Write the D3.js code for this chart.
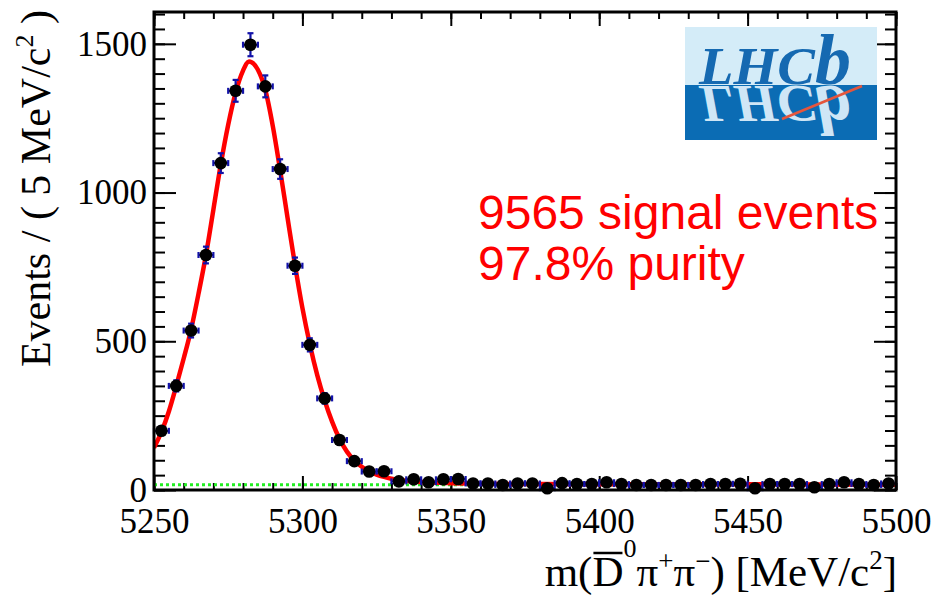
<!DOCTYPE html>
<html><head><meta charset="utf-8">
<script src="https://cdn.jsdelivr.net/npm/d3@7"></script>
<style>body{margin:0;background:#fff} svg{display:block}</style>
</head><body>
<svg id="c" width="933" height="595"></svg>
<script>
// ---------- data ----------
const binCenters = [5252.5,5257.5,5262.5,5267.5,5272.5,5277.5,5282.5,5287.5,5292.5,5297.5,
  5302.5,5307.5,5312.5,5317.5,5322.5,5327.5,5332.5,5337.5,5342.5,5347.5,
  5352.5,5357.5,5362.5,5367.5,5372.5,5377.5,5382.5,5387.5,5392.5,5397.5,
  5402.5,5407.5,5412.5,5417.5,5422.5,5427.5,5432.5,5437.5,5442.5,5447.5,
  5452.5,5457.5,5462.5,5467.5,5472.5,5477.5,5482.5,5487.5,5492.5,5497.5];
const counts = [199,350,536,790,1099,1342,1497,1357,1079,754,
  488,308,168,97,62,63,29,36,26,36,
  37,22,22,17,22,22,6,23,20,20,
  26,20,17,17,17,17,17,20,20,21,
  6,20,20,20,9,20,26,20,17,22];
const fitMass = [5250,5252.5,5255,5257.5,5260,5262.5,5265,5267.5,5270,5272.5,5275,5277.5,5280,5282,
  5285,5287.5,5290,5292.5,5295,5297.5,5300,5302.5,5305,5307.5,5310,5312.5,5315,5317.5,5320,5322.5,
  5325,5327.5,5330,5335,5340,5350,5360,5380,5400,5450,5500];
const fitValues = [142,195,264,350,442,540,660,790,942,1095,1228,1336,1410,1441,
  1413,1345,1225,1075,915,757,612,490,386,301,230,172,129,99,78,63,
  52,44,38,31,27,23,21,20,19,19,18];
const backgroundLevel = 18;
const xTicks = [5250,5300,5350,5400,5450,5500];
const yTicks = [0,500,1000,1500];
const binWidth = 5;

// ---------- layout ----------
const L = 154, R = 896, T = 12, B = 490;
const svg = d3.select("#c");
const x = d3.scaleLinear().domain([5250,5500]).range([L,R]);
const y = d3.scaleLinear().domain([0,1607]).range([B,T]);

const serif = "'Liberation Serif','Times New Roman',serif";
const sans = "'Liberation Sans',Arial,sans-serif";

const defs = svg.append("defs");
defs.append("clipPath").attr("id","plotclip")
  .append("rect").attr("x",L).attr("y",T).attr("width",R-L).attr("height",B-T);

// ---------- axes (ROOT style inward ticks) ----------
const axB = svg.append("g").attr("transform",`translate(0,${B})`)
  .call(d3.axisBottom(x).tickValues(d3.range(5250,5501,10)).tickSize(-7).tickFormat(""));
const axB2 = svg.append("g").attr("transform",`translate(0,${B})`)
  .call(d3.axisBottom(x).tickValues(xTicks).tickSize(-14).tickFormat(d3.format("d")));
const axT = svg.append("g").attr("transform",`translate(0,${T})`)
  .call(d3.axisTop(x).tickValues(d3.range(5250,5501,10)).tickSize(-7).tickFormat(""));
const axT2 = svg.append("g").attr("transform",`translate(0,${T})`)
  .call(d3.axisTop(x).tickValues(xTicks).tickSize(-14).tickFormat(""));
const axL = svg.append("g").attr("transform",`translate(${L},0)`)
  .call(d3.axisLeft(y).tickValues(d3.range(0,1601,50)).tickSize(-11).tickFormat(""));
const axL2 = svg.append("g").attr("transform",`translate(${L},0)`)
  .call(d3.axisLeft(y).tickValues(yTicks).tickSize(-22).tickFormat(d3.format("d")));
const axR = svg.append("g").attr("transform",`translate(${R},0)`)
  .call(d3.axisRight(y).tickValues(d3.range(0,1601,50)).tickSize(-11).tickFormat(""));
const axR2 = svg.append("g").attr("transform",`translate(${R},0)`)
  .call(d3.axisRight(y).tickValues(yTicks).tickSize(-22).tickFormat(""));
[axB,axB2,axT,axT2,axL,axL2,axR,axR2].forEach(g=>{
  g.select(".domain").remove();
  g.selectAll(".tick line").attr("stroke","#000").attr("stroke-width",2);
  g.selectAll(".tick text").attr("font-family",serif).attr("font-size",35).attr("fill","#000");
});
axB2.selectAll(".tick text").attr("dy","0.71em").attr("y",18);
axL2.selectAll(".tick text").attr("x",-7).attr("dy","0.32em");

// ---------- background (green dotted) ----------
const plot = svg.append("g").attr("clip-path","url(#plotclip)");
plot.append("line")
  .attr("x1",x(5250)).attr("x2",x(5500))
  .attr("y1",y(backgroundLevel)).attr("y2",y(backgroundLevel))
  .attr("stroke","#22ee22").attr("stroke-width",3).attr("stroke-dasharray","3,3");

// ---------- fit curve ----------
const fitPts = fitMass.map((m,i)=>[m,fitValues[i]]);
plot.append("path").datum(fitPts)
  .attr("d",d3.line().x(d=>x(d[0])).y(d=>y(d[1])).curve(d3.curveMonotoneX))
  .attr("fill","none").attr("stroke","#ff0000").attr("stroke-width",4.5);

// ---------- data points ----------
const data = binCenters.map((m,i)=>({m, n:counts[i], e:Math.sqrt(counts[i])}));
const eb = svg.append("g").attr("stroke","#1212a8").attr("stroke-width",2.2);
const cap = 3;
data.forEach(d=>{
  const cx = x(d.m), cy = y(d.n);
  const x0 = x(d.m-binWidth/2), x1 = x(d.m+binWidth/2);
  const y0 = y(d.n-d.e), y1 = y(d.n+d.e);
  eb.append("line").attr("x1",x0).attr("x2",x1).attr("y1",cy).attr("y2",cy);
  eb.append("line").attr("x1",x0).attr("x2",x0).attr("y1",cy-cap).attr("y2",cy+cap);
  eb.append("line").attr("x1",x1).attr("x2",x1).attr("y1",cy-cap).attr("y2",cy+cap);
  eb.append("line").attr("x1",cx).attr("x2",cx).attr("y1",y0).attr("y2",y1);
  eb.append("line").attr("x1",cx-cap).attr("x2",cx+cap).attr("y1",y0).attr("y2",y0);
  eb.append("line").attr("x1",cx-cap).attr("x2",cx+cap).attr("y1",y1).attr("y2",y1);
});
svg.append("g").selectAll("circle").data(data).join("circle")
  .attr("cx",d=>x(d.m)).attr("cy",d=>y(d.n)).attr("r",6.3).attr("fill","#000");

// ---------- frame ----------
svg.append("rect").attr("x",L).attr("y",T).attr("width",R-L).attr("height",B-T)
  .attr("fill","none").attr("stroke","#000").attr("stroke-width",3);

// ---------- axis titles ----------
const xt = svg.append("text").attr("x",897).attr("y",586).attr("text-anchor","end")
  .attr("font-family",serif).attr("font-size",43).attr("fill","#000");
xt.append("tspan").text("m(");
xt.append("tspan").text("D");
xt.append("tspan").attr("font-size",26).attr("dy",-29).text("0");
xt.append("tspan").attr("dy",29).text("π");
xt.append("tspan").attr("font-size",27).attr("dy",-16).text("+");
xt.append("tspan").attr("dy",16).text("π");
xt.append("tspan").attr("font-size",27).attr("dy",-16).text("−");
xt.append("tspan").attr("dy",16).text(") [MeV/c");
xt.append("tspan").attr("font-size",27).attr("dy",-17).text("2");
xt.append("tspan").attr("dy",17).text("]");
// overline over D
const ext = xt.node().getExtentOfChar(2);
svg.append("line").attr("x1",ext.x+1).attr("x2",ext.x+ext.width-1)
  .attr("y1",553).attr("y2",553).attr("stroke","#000").attr("stroke-width",2.5);

const yt = svg.append("text").attr("transform","translate(50,10) rotate(-90)")
  .attr("text-anchor","end").attr("font-family",serif).attr("font-size",42).attr("fill","#000");
yt.append("tspan").text("Events / ( 5 MeV/c");
yt.append("tspan").attr("font-size",26).attr("dy",-17).text("2");
yt.append("tspan").attr("dy",17).text(" )");

// ---------- annotation ----------
const ann = svg.append("g").attr("font-family",sans).attr("font-size",48).attr("fill","#ff0000");
ann.append("text").attr("x",478).attr("y",229).text("9565 signal events");
ann.append("text").attr("x",478).attr("y",280).text("97.8% purity");

// ---------- LHCb logo ----------
const lg = svg.append("g");
const lx = 685, ly = 27, lw = 192, lmid = 85, lh = 113;
lg.append("rect").attr("x",lx).attr("y",ly).attr("width",lw).attr("height",lmid-ly).attr("fill","#d4ecf8");
lg.append("rect").attr("x",lx).attr("y",lmid).attr("width",lw).attr("height",ly+lh-lmid).attr("fill","#0b6cb4");
defs.append("clipPath").attr("id","logoBot").append("rect")
  .attr("x",lx).attr("y",lmid).attr("width",lw).attr("height",ly+lh-lmid);
defs.append("clipPath").attr("id","logoTop").append("rect")
  .attr("x",lx).attr("y",ly).attr("width",lw).attr("height",lmid-ly);
function logoText(g, fill){
  const t = g.append("text").attr("x",699).attr("y",lmid-1).attr("font-family",serif)
    .attr("font-style","italic").attr("font-weight","bold").attr("fill",fill);
  t.append("tspan").attr("font-size",52).attr("textLength",116).attr("lengthAdjust","spacingAndGlyphs").text("LHC");
  t.append("tspan").attr("font-size",72).text("b");
}
logoText(lg.append("g").attr("clip-path","url(#logoTop)"), "#1569b1");
const refl = lg.append("g").attr("clip-path","url(#logoBot)").append("g")
  .attr("transform",`translate(0,${2*lmid}) scale(1,-1)`);
logoText(refl, "#cfe6f6");
lg.append("line").attr("x1",782).attr("y1",119).attr("x2",862).attr("y2",86)
  .attr("stroke","#e5553c").attr("stroke-width",2.5);
</script>
</body></html>
